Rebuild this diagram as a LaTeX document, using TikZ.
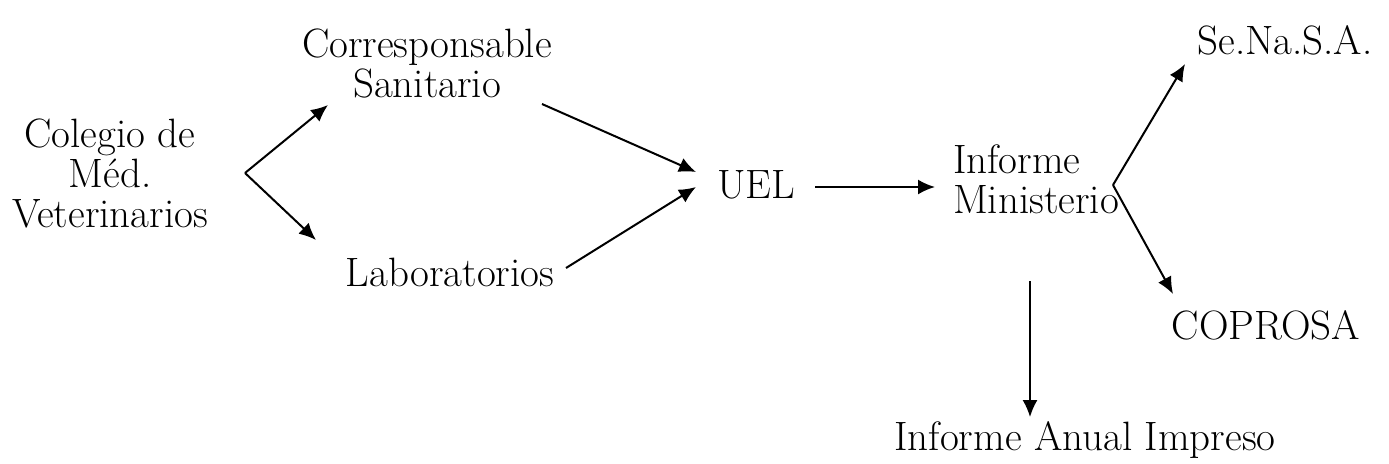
\documentclass[tikz,border=0pt]{standalone}
\usetikzlibrary{arrows.meta}
\begin{document}
\begin{tikzpicture}[x=1pt,y=-1pt,
  lbl/.style={inner sep=0pt,align=center,font=\fontsize{41}{40}\selectfont},
  arr/.style={line width=2pt,-{Latex[length=17pt,width=15pt]}}]
\useasboundingbox (0,0) rectangle (1389,463);
\node[lbl] (col) at (110,173) {Colegio de\\Méd.\\Veterinarios};
\node[lbl] (cor) at (427,63) {Corresponsable\\Sanitario};
\node[lbl] (lab) at (450,272) {Laboratorios};
\node[lbl] (uel) at (756,185) {UEL};
\node[lbl,align=left] (inf) at (1036,179) {Informe\\Ministerio};
\node[lbl] (sen) at (1285,40) {Se.Na.S.A.};
\node[lbl] (cop) at (1266,325) {COPROSA};
\node[lbl] (anu) at (1085,440) {Informe Anual Impreso};
\coordinate (f1) at (245,173);
\coordinate (f1a) at (328,105);
\coordinate (f1b) at (316,240);
\coordinate (c1) at (542,104);
\coordinate (c2) at (696,172);
\coordinate (l1) at (566,268);
\coordinate (l2) at (696,187);
\coordinate (u1) at (815,187);
\coordinate (u2) at (935,187);
\coordinate (f2) at (1113,185);
\coordinate (f2a) at (1185,64);
\coordinate (f2b) at (1173,294);
\coordinate (v1) at (1030,281);
\coordinate (v2) at (1030,417);
\draw[arr] (f1) -- (f1a);
\draw[arr] (f1) -- (f1b);
\draw[arr] (c1) -- (c2);
\draw[arr] (l1) -- (l2);
\draw[arr] (u1) -- (u2);
\draw[arr] (f2) -- (f2a);
\draw[arr] (f2) -- (f2b);
\draw[arr,line width=1.6pt] (v1) -- (v2);
\end{tikzpicture}
\end{document}
